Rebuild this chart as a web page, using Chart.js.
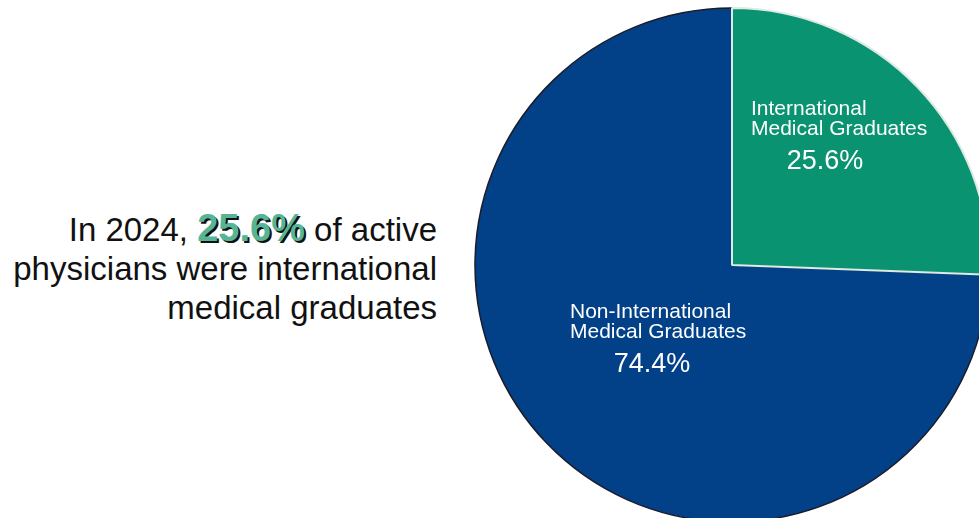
<!DOCTYPE html>
<html>
<head>
<meta charset="utf-8">
<script src="https://cdn.jsdelivr.net/npm/chart.js@4"></script>
<style>
  html, body {
    margin: 0;
    padding: 0;
    width: 979px;
    height: 518px;
    overflow: hidden;
    background: #ffffff;
    font-family: "Liberation Sans", Arial, sans-serif;
  }

  #titulo {
    position: absolute;
    right: 542px;
    top: 210px;
    width: 470px;
    text-align: right;
    font-size: 33px;
    line-height: 39px;
    color: #111111;
  }

  #titulo .destaque {
    font-weight: bold;
    font-size: 38px;
    line-height: 30px;
    color: #55b596;
    text-shadow: 2px 2px 0 #111111;
  }

  #pizzaBox {
    position: absolute;
    left: 474px;
    top: 7px;
    width: 516px;
    height: 516px;
  }
</style>
</head>
<body>

<div id="titulo">In 2024, <span class="destaque">25.6%</span> of active physicians were international medical graduates</div>

<div id="pizzaBox">
  <canvas id="graficoPizza"></canvas>
</div>

<script>
// fatias: não-IMG primeiro para que a borda clara da fatia IMG fique por cima
const categorias = ["Non-International Medical Graduates", "International Medical Graduates"];
const rotulosLinhas = [
  ["Non-International", "Medical Graduates"],
  ["International", "Medical Graduates"]
];
const percentuais = [74.4, 25.6];

const coresFatias = ["#024087", "#0a9370"];
const coresBorda = ["#1b1b2a", "#dfe9e6"];

// posição dos rótulos em relação ao centro da pizza
const posRotulos = [
  { x: -162, y: 53, pctX: -80, pctY: 107 },
  { x: 19, y: -150, pctX: 93, pctY: -96 }
];

// a fatia IMG começa no topo e segue no sentido horário
const rotacaoInicial = percentuais[1] / 100 * 360;

const rotulosFatias = {
  id: "rotulosFatias",
  afterDatasetsDraw(chart) {
    const ctx = chart.ctx;
    const arcos = chart.getDatasetMeta(0).data;

    ctx.save();
    ctx.fillStyle = "#ffffff";
    ctx.textBaseline = "alphabetic";

    arcos.forEach((arco, i) => {
      const pos = posRotulos[i];

      ctx.font = "21px 'Liberation Sans', Arial, sans-serif";
      ctx.textAlign = "left";
      rotulosLinhas[i].forEach((linha, j) => {
        ctx.fillText(linha, arco.x + pos.x, arco.y + pos.y + j * 20);
      });

      ctx.font = "27px 'Liberation Sans', Arial, sans-serif";
      ctx.textAlign = "center";
      ctx.fillText(`${percentuais[i].toFixed(1)}%`, arco.x + pos.pctX, arco.y + pos.pctY);
    });

    ctx.restore();
  }
};

new Chart(document.getElementById("graficoPizza"), {
  type: "pie",
  data: {
    labels: categorias,
    datasets: [
      {
        data: percentuais,
        backgroundColor: coresFatias,
        borderColor: coresBorda,
        borderWidth: [1.5, 2]
      }
    ]
  },
  options: {
    responsive: true,
    maintainAspectRatio: false,
    animation: false,
    rotation: rotacaoInicial,
    layout: {
      padding: 0
    },
    plugins: {
      legend: {
        display: false
      },
      tooltip: {
        enabled: false
      }
    }
  },
  plugins: [rotulosFatias]
});
</script>
</body>
</html>
